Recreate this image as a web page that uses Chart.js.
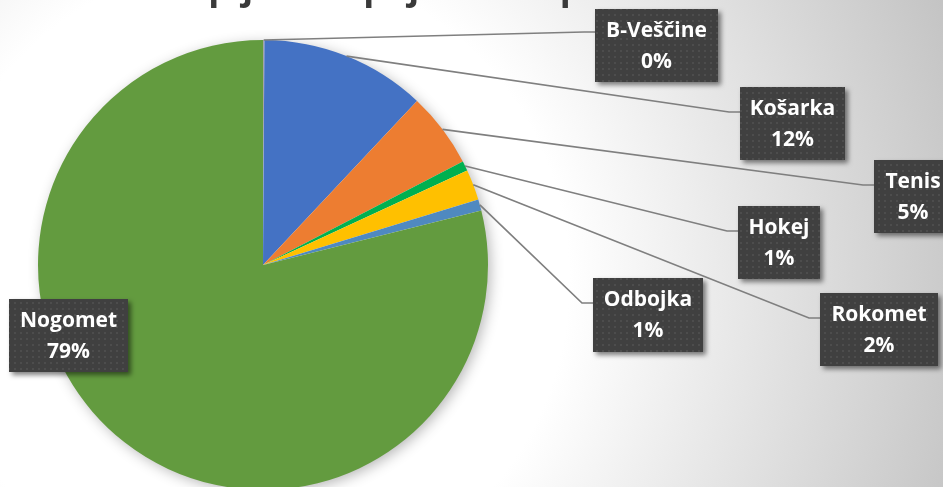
<!DOCTYPE html>
<html>
<head>
<meta charset="utf-8">
<script src="https://cdn.jsdelivr.net/npm/chart.js@4/dist/chart.umd.min.js"></script>
<style>
html,body{margin:0;padding:0;overflow:hidden;background:#fff;}
#wrap{width:943px;height:497px;position:relative;}
</style>
</head>
<body>
<div id="wrap"><canvas id="c" width="943" height="497"></canvas></div>
<script>
// ---- data ----
const categories = ["B-Veščine", "Košarka", "Tenis", "Hokej", "Rokomet", "Odbojka", "Nogomet"];
const shares = [0.1, 11.9, 5.4, 0.7, 2.2, 0.8, 78.9];
const sliceColors = ["#A5A5A5", "#4472C4", "#ED7D31", "#00B050", "#FFC000", "#4F89C0", "#639B3F"];
const titleText = "Zastupljenost pojedinih sportova";

// ---- label box placement (layout only) ----
const labelBoxes = [
  {x:595, y:9,   w:123, h:73, ly:32,  line:true},
  {x:740, y:87,  w:105, h:73, ly:112, line:true},
  {x:874, y:160, w:78,  h:73, ly:185, line:true},
  {x:738, y:206, w:82,  h:73, ly:231, line:true},
  {x:820, y:293, w:118, h:73, ly:318, line:true},
  {x:593, y:278, w:110, h:74, ly:303, line:true},
  {x:9,   y:299, w:119, h:73, ly:0,   line:false}
];

function makeDotPattern(ctx){
  const p = document.createElement('canvas');
  p.width = 6; p.height = 6;
  const pc = p.getContext('2d');
  pc.fillStyle = '#404040'; pc.fillRect(0,0,6,6);
  pc.fillStyle = '#4d4d4d'; pc.fillRect(2,2,2,2);
  return ctx.createPattern(p,'repeat');
}

const bgPlugin = {
  id:'bg',
  beforeDraw(chart){
    const ctx = chart.ctx;
    const g = ctx.createRadialGradient(250,280,0,250,280,760);
    g.addColorStop(0,'#ffffff');
    g.addColorStop(0.42,'#ffffff');
    g.addColorStop(1,'#c2c2c2');
    ctx.save();
    ctx.fillStyle = g;
    ctx.fillRect(0,0,chart.width,chart.height);
    // title (mostly above the visible area)
    ctx.fillStyle = '#3a3a3a';
    ctx.font = 'bold 36px "Open Sans", Lato, sans-serif';
    ctx.textAlign = 'center';
    ctx.textBaseline = 'alphabetic';
    ctx.fillText(titleText, 405, -1);
    ctx.restore();
  },
  beforeDatasetsDraw(chart){
    const meta = chart.getDatasetMeta(0);
    const a = meta.data[0];
    const ctx = chart.ctx;
    ctx.save();
    ctx.shadowColor = 'rgba(0,0,0,0.3)';
    ctx.shadowBlur = 14;
    ctx.shadowOffsetX = 3;
    ctx.shadowOffsetY = 3;
    ctx.fillStyle = '#ffffff';
    ctx.beginPath();
    ctx.arc(a.x, a.y, a.outerRadius-1, 0, Math.PI*2);
    ctx.fill();
    ctx.restore();
  }
};

const labelPlugin = {
  id:'labels',
  afterDatasetsDraw(chart){
    const ctx = chart.ctx;
    const meta = chart.getDatasetMeta(0);
    const total = shares.reduce((s,v)=>s+v,0);
    ctx.save();
    // leader lines
    ctx.strokeStyle = '#7f7f7f';
    ctx.lineWidth = 1.7;
    meta.data.forEach((arc,i)=>{
      const b = labelBoxes[i];
      if(!b.line) return;
      const mid = (arc.startAngle + arc.endAngle)/2;
      const sx = arc.x + Math.cos(mid)*arc.outerRadius;
      const sy = arc.y + Math.sin(mid)*arc.outerRadius;
      ctx.beginPath();
      ctx.moveTo(sx, sy);
      ctx.lineTo(b.x - 11, b.ly);
      ctx.lineTo(b.x, b.ly);
      ctx.stroke();
    });
    // boxes
    const pat = makeDotPattern(ctx);
    meta.data.forEach((arc,i)=>{
      const b = labelBoxes[i];
      ctx.save();
      ctx.shadowColor = 'rgba(0,0,0,0.5)';
      ctx.shadowBlur = 5;
      ctx.shadowOffsetX = 3;
      ctx.shadowOffsetY = 3;
      ctx.fillStyle = pat;
      ctx.fillRect(b.x, b.y, b.w, b.h);
      ctx.restore();
      ctx.fillStyle = '#ffffff';
      ctx.font = 'bold 21px "Open Sans", Lato, sans-serif';
      ctx.textAlign = 'center';
      ctx.textBaseline = 'middle';
      const cx = b.x + b.w/2;
      ctx.fillText(categories[i], cx, b.y + 22);
      ctx.fillText(Math.round(shares[i]/total*100) + '%', cx, b.y + 53);
    });
    ctx.restore();
  }
};

new Chart(document.getElementById('c'), {
  type:'pie',
  data:{
    labels: categories,
    datasets:[{
      data: shares,
      backgroundColor: sliceColors,
      borderWidth: 0
    }]
  },
  options:{
    responsive:false,
    animation:false,
    layout:{padding:{top:40, left:38, right:455, bottom:7}},
    plugins:{legend:{display:false}, tooltip:{enabled:false}, title:{display:false}}
  },
  plugins:[bgPlugin, labelPlugin]
});
</script>
</body>
</html>
